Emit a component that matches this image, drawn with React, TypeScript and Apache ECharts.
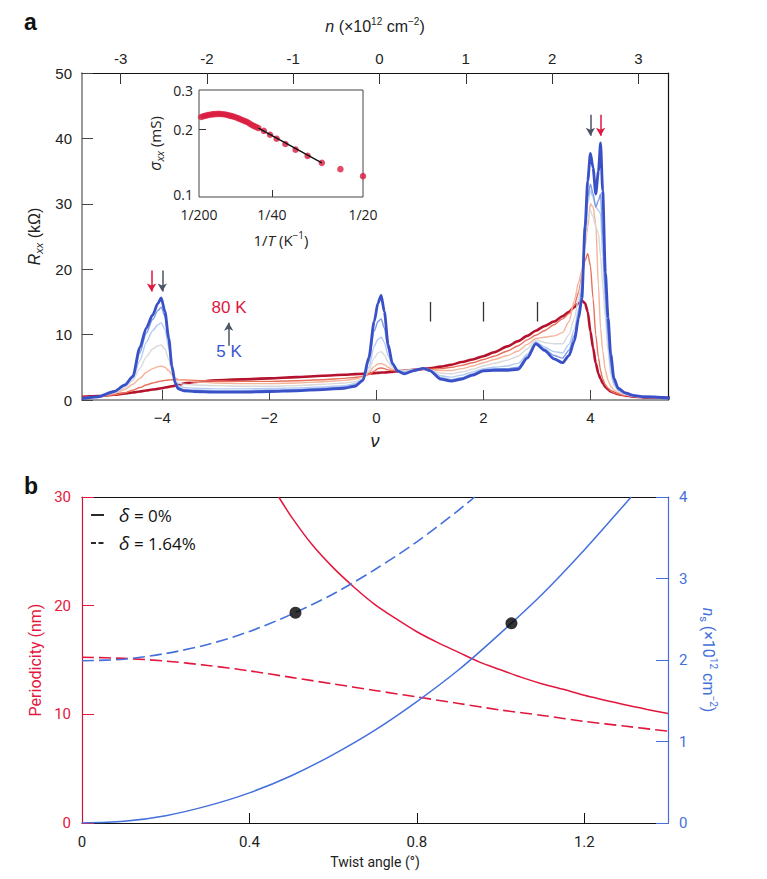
import React, { useEffect, useRef } from 'react';
import * as echarts from 'echarts';

// ---------- Panel a: Rxx vs filling factor ----------
const nu = [
  -5.5, -5.2, -4.9, -4.7, -4.55, -4.42, -4.3, -4.18, -4.08, -4.02,
  -3.95, -3.88, -3.82, -3.76, -3.7, -3.6, -3.4, -3.0, -2.5, -2.0,
  -1.5, -1.0, -0.6, -0.4, -0.25, -0.14, -0.04, 0.03, 0.09, 0.15,
  0.22, 0.3, 0.4, 0.52, 0.7, 0.88, 1.0, 1.2, 1.4, 1.6,
  1.8, 2.0, 2.2, 2.45, 2.65, 2.82, 2.98, 3.14, 3.32, 3.48,
  3.6, 3.7, 3.78, 3.84, 3.9, 3.95, 4.0, 4.05, 4.1, 4.15,
  4.19, 4.23, 4.28, 4.33, 4.38, 4.44, 4.52, 4.65, 4.8, 5.0,
  5.5,
];
const rxx80K = [
  0.5, 0.6, 0.8, 1.0, 1.15, 1.3, 1.45, 1.6, 1.7, 1.8,
  1.9, 2.0, 2.1, 2.2, 2.35, 2.5, 2.75, 3.0, 3.15, 3.3,
  3.5, 3.7, 3.85, 3.95, 4.0, 4.05, 4.1, 4.15, 4.2, 4.2,
  4.25, 4.3, 4.4, 4.5, 4.6, 4.75, 4.85, 5.1, 5.4, 5.8,
  6.2, 6.7, 7.3, 8.2, 9.0, 9.8, 10.6, 11.3, 12.0, 12.8,
  13.5, 14.2, 14.8, 15.2, 14.8, 13.5, 10.5, 8.0, 5.6, 4.0,
  3.2, 2.6, 2.0, 1.6, 1.3, 1.1, 0.9, 0.7, 0.5, 0.4,
  0.35,
];
const rxxT2 = [
  0.4, 0.5, 0.8, 1.1, 1.5, 1.9, 2.3, 2.6, 2.8, 2.9,
  3.0, 3.05, 3.1, 3.1, 3.1, 3.05, 3.0, 2.9, 2.85, 2.85,
  2.95, 3.1, 3.3, 3.45, 3.6, 3.9, 4.4, 4.8, 4.9, 4.8,
  4.6, 4.5, 4.5, 4.5, 4.6, 4.7, 4.7, 4.8, 5.0, 5.3,
  5.7, 6.2, 6.7, 7.5, 8.3, 9.2, 9.9, 10.6, 11.5, 12.4,
  13.2, 14.5, 16.5, 18.8, 21.3, 22.4, 20.5, 15.5, 10.0, 6.5,
  4.5, 3.2, 2.3, 1.8, 1.4, 1.1, 0.9, 0.7, 0.5, 0.4,
  0.3,
];
const rxxT3 = [
  0.3, 0.5, 1.0, 1.6, 2.4, 3.3, 4.2, 4.8, 5.1, 5.2,
  5.0, 4.5, 3.9, 3.4, 3.15, 3.0, 2.8, 2.6, 2.5, 2.5,
  2.6, 2.8, 3.0, 3.2, 3.5, 4.2, 5.1, 5.5, 5.6, 5.4,
  5.0, 4.7, 4.6, 4.5, 4.6, 4.7, 4.6, 4.5, 4.5, 4.8,
  5.2, 5.7, 6.2, 6.8, 7.5, 8.5, 9.4, 9.6, 9.8, 10.3,
  12.0, 15.2, 18.0, 19.8, 23.5, 26.4, 30.0, 29.5, 27.0, 17.5,
  11.0, 7.5, 4.5, 3.0, 2.1, 1.5, 1.1, 0.8, 0.6, 0.4,
  0.3,
];
const rxxT4 = [
  0.25, 0.5, 1.1, 1.9, 3.0, 4.8, 6.6, 7.8, 8.3, 8.4,
  7.8, 6.2, 4.4, 3.1, 2.6, 2.4, 2.3, 2.2, 2.1, 2.1,
  2.2, 2.4, 2.6, 2.8, 3.3, 4.5, 6.4, 7.2, 7.4, 6.9,
  5.8, 5.0, 4.7, 4.5, 4.6, 4.8, 4.6, 4.1, 4.0, 4.3,
  4.7, 5.2, 5.6, 6.1, 6.7, 7.8, 9.2, 8.8, 8.6, 8.6,
  10.0, 12.5, 15.5, 18.5, 24.0, 27.5, 29.0, 28.0, 26.5, 25.5,
  22.0, 17.5, 12.5, 7.5, 4.0, 2.2, 1.4, 0.9, 0.6, 0.45,
  0.3,
];
const rxxT5 = [
  0.2, 0.5, 1.2, 2.1, 3.3, 6.0, 8.8, 10.6, 11.5, 11.8,
  10.8, 8.0, 5.0, 3.0, 2.2, 1.9, 1.8, 1.7, 1.7, 1.75,
  1.85, 2.0, 2.2, 2.5, 3.1, 5.0, 8.2, 9.3, 9.6, 8.8,
  6.8, 5.3, 4.6, 4.3, 4.6, 4.85, 4.6, 3.7, 3.5, 3.8,
  4.3, 4.8, 5.0, 5.2, 5.6, 7.0, 8.9, 8.1, 7.4, 7.2,
  8.5, 10.8, 14.0, 17.5, 25.0, 30.0, 32.0, 31.0, 29.5, 29.0,
  28.5, 22.0, 14.5, 8.5, 4.5, 2.4, 1.5, 0.9, 0.6, 0.45,
  0.3,
];
const rxxT6 = [
  0.2, 0.5, 1.25, 2.2, 3.5, 7.2, 10.2, 12.3, 13.7, 14.2,
  12.8, 9.0, 5.1, 2.8, 1.9, 1.6, 1.5, 1.4, 1.4, 1.5,
  1.6, 1.8, 2.0, 2.3, 3.0, 5.8, 10.5, 12.0, 12.4, 11.0,
  7.8, 5.5, 4.5, 4.1, 4.55, 4.85, 4.55, 3.4, 3.1, 3.4,
  4.0, 4.6, 4.75, 4.8, 5.0, 6.7, 8.7, 7.8, 6.8, 6.4,
  7.6, 9.9, 13.3, 16.8, 25.0, 31.0, 33.0, 31.5, 29.5, 30.5,
  31.5, 25.0, 16.0, 10.0, 5.5, 2.8, 1.6, 1.0, 0.65, 0.45,
  0.3,
];
const rxx5K = [
  0.2, 0.5, 1.3, 2.3, 3.6, 8.0, 11.0, 13.0, 14.8, 15.6,
  13.5, 9.5, 5.2, 2.6, 1.7, 1.4, 1.3, 1.2, 1.2, 1.3,
  1.4, 1.6, 1.8, 2.1, 3.0, 6.5, 12.0, 14.8, 16.0, 13.5,
  8.5, 5.6, 4.4, 4.0, 4.5, 4.85, 4.5, 3.2, 2.9, 3.2,
  3.8, 4.45, 4.55, 4.55, 4.7, 6.4, 8.6, 7.6, 6.3, 5.7,
  6.8, 9.0, 12.5, 15.5, 26.5, 33.5, 37.7, 35.5, 31.5, 35.0,
  39.3, 32.0, 19.5, 12.6, 7.0, 3.3, 1.8, 1.1, 0.7, 0.5,
  0.3,
];
const curveColors = ['#b5122d', '#e8705a', '#f5b39a', '#d9d9d9', '#b3cbf3', '#7c9be9', '#3a50c6'];
const curveWidths = [2.6, 1.4, 1.4, 1.4, 1.4, 1.4, 2.8];
const curves = [rxx80K, rxxT2, rxxT3, rxxT4, rxxT5, rxxT6, rxx5K];

const nuTicks = [-4, -2, 0, 2, 4];
const nTicks = [-3, -2, -1, 0, 1, 2, 3];
const fillingMarks = [1, 2, 3];
const fillingMarkRange = [12, 15];
// arrows: [nu, yStart, yEnd]
const arrowRed = [[-4.2, 19.8, 16.6], [4.19, 43.6, 40.4]];
const arrowGray = [[-4.0, 19.8, 16.6], [4.0, 43.6, 40.4]];
const tempArrow = [-2.76, 8.3, 11.8];

// ---------- Inset ----------
const invT = [0.0056, 0.0062, 0.0068, 0.0074, 0.0080, 0.0086, 0.0092, 0.0098, 0.0104, 0.0110,
  0.0116, 0.0122, 0.0128, 0.0134, 0.0140, 0.0146, 0.0152, 0.0158, 0.0164, 0.0170,
  0.0176, 0.0182, 0.0188, 0.0194, 0.0200, 0.0206, 0.0213, 0.0228, 0.0245, 0.0263,
  0.0287, 0.0315, 0.0348, 0.0387, 0.0438, 0.0500];
const sigma = [0.2275, 0.2290, 0.2305, 0.2318, 0.2328, 0.2336, 0.2342, 0.2346, 0.2347, 0.2345,
  0.2340, 0.2332, 0.2320, 0.2306, 0.2295, 0.2280, 0.2262, 0.2242, 0.2222, 0.2200,
  0.2180, 0.2160, 0.2130, 0.2100, 0.2075, 0.2055, 0.2029, 0.1973, 0.1895, 0.1820,
  0.1723, 0.1626, 0.1525, 0.1420, 0.1331, 0.1239];
const fitX = [0.0213, 0.0387];
const fitY = [0.2029, 0.142];
const invTLabels = [0.005, 0.025, 0.05];
const sigmaLabels = [0.1, 0.2, 0.3];

// ---------- Panel b ----------
const angleSolidP = [0.47, 0.5, 0.55, 0.6, 0.65, 0.7, 0.75, 0.8, 0.85, 0.9, 0.95, 1.0, 1.05, 1.1, 1.15, 1.2, 1.25, 1.3, 1.35, 1.4];
const periodSolid = [30.0, 28.2, 25.6, 23.5, 21.7, 20.1, 18.8, 17.6, 16.6, 15.7, 14.8, 14.1, 13.4, 12.8, 12.3, 11.75, 11.3, 10.85, 10.45, 10.07];
const angleDashedP = [0, 0.1, 0.2, 0.3, 0.4, 0.5, 0.6, 0.7, 0.8, 0.9, 1.0, 1.1, 1.2, 1.3, 1.4];
const periodDashed = [15.25, 15.15, 14.9, 14.5, 14.0, 13.4, 12.8, 12.2, 11.6, 11.0, 10.4, 9.9, 9.35, 8.9, 8.45];
const angleSolidN = [0, 0.1, 0.2, 0.3, 0.4, 0.5, 0.6, 0.7, 0.8, 0.9, 1.0, 1.1, 1.2, 1.3, 1.312];
const nsSolid = [0, 0.02, 0.09, 0.21, 0.37, 0.58, 0.84, 1.14, 1.49, 1.88, 2.33, 2.81, 3.35, 3.93, 4.0];
const angleDashedN = [0, 0.1, 0.2, 0.3, 0.4, 0.5, 0.6, 0.7, 0.8, 0.9, 0.938];
const nsDashed = [1.99, 2.01, 2.08, 2.19, 2.35, 2.56, 2.81, 3.11, 3.45, 3.84, 4.0];
const dotAngles = [0.51, 1.026];
const dotNs = [2.58, 2.45];
const angleTicks = [0, 0.4, 0.8, 1.2];

const RED = '#e3173d';
const BLUE = '#4470dc';
const zip = (a: number[], b: number[]) => a.map((v, i) => [v, b[i]]);
const minus = (v: number) => (v < 0 ? '\u2212' + Math.abs(v) : String(v));

const supRich = {
  i: { fontStyle: 'italic', fontSize: 16 },
  sup: { fontSize: 10, verticalAlign: 'top', lineHeight: 10 },
  sub: { fontSize: 11, fontStyle: 'italic', verticalAlign: 'bottom', lineHeight: 11 },
};

export default function App() {
  const ref = useRef<HTMLDivElement>(null);
  useEffect(() => {
    const chart = echarts.init(ref.current!, null, { renderer: 'svg' });
    const F = 'Liberation Sans, Arial, sans-serif';
    const borderAxis = (grid: number, pos: string, min: number, max: number, color: string) => ({
      type: 'value', gridIndex: grid, position: pos, min, max,
      axisLine: { show: true, onZero: false, lineStyle: { color, width: 1.2 } },
      axisTick: { show: false }, axisLabel: { show: false }, splitLine: { show: false },
    });

    const aSeries: any[] = curves.map((arr, k) => ({
      type: 'line', xAxisIndex: 0, yAxisIndex: 0,
      data: zip(nu, arr), showSymbol: false, smooth: 0.25, smoothMonotone: 'x',
      lineStyle: { color: curveColors[k], width: curveWidths[k] }, z: 2 + k, silent: true,
    }));
    aSeries[0].markLine = {
      silent: true, symbol: ['none', 'arrow'], symbolSize: [7, 8], animation: false,
      label: { show: false },
      data: [
        ...arrowRed.map(a => [{ coord: [a[0], a[1]], lineStyle: { color: '#e0163c', width: 1.5, type: 'solid' } }, { coord: [a[0], a[2]] }]),
        ...arrowGray.map(a => [{ coord: [a[0], a[1]], lineStyle: { color: '#4b5563', width: 1.5, type: 'solid' } }, { coord: [a[0], a[2]] }]),
        [{ coord: [tempArrow[0], tempArrow[1]], lineStyle: { color: '#4b5563', width: 1.5, type: 'solid' } }, { coord: [tempArrow[0], tempArrow[2]] }],
      ],
    };
    aSeries[1].markLine = {
      silent: true, symbol: ['none', 'none'], animation: false, label: { show: false },
      data: fillingMarks.map(m => [{ coord: [m, fillingMarkRange[0]], lineStyle: { color: '#333', width: 1.3, type: 'solid' } }, { coord: [m, fillingMarkRange[1]] }]),
    };

    const option: any = {
      animation: false,
      backgroundColor: '#fff',
      textStyle: { fontFamily: F },
      grid: [
        { left: 82, top: 73, width: 586, height: 327 },
        { left: 199, top: 90, width: 164, height: 107, show: true, borderColor: '#444', borderWidth: 1, backgroundColor: 'rgba(0,0,0,0)', z: 10 },
        { left: 82, top: 497, width: 586, height: 326 },
      ],
      xAxis: [
        {
          type: 'value', gridIndex: 0, position: 'bottom', min: -5.5, max: 5.45,
          axisLine: { onZero: false, lineStyle: { color: '#777', width: 1.5 } },
          axisTick: { inside: true, length: 10, customValues: nuTicks, lineStyle: { color: '#444' } },
          axisLabel: { customValues: nuTicks, formatter: (v: number) => minus(v), fontSize: 15, color: '#222', margin: 10 },
          splitLine: { show: false },
          name: 'ν', nameLocation: 'middle', nameGap: 32,
          nameTextStyle: { fontStyle: 'italic', fontSize: 18, color: '#222' },
        },
        {
          type: 'value', gridIndex: 0, position: 'top', min: -3.447, max: 3.343,
          axisLine: { onZero: false, lineStyle: { color: '#111', width: 1.2 } },
          axisTick: { inside: true, length: 11, customValues: nTicks, lineStyle: { color: '#333' } },
          axisLabel: { customValues: nTicks, formatter: (v: number) => (v < 0 ? '-' + Math.abs(v) : String(v)), fontSize: 15, color: '#222', margin: 7 },
          splitLine: { show: false },
          name: '{i|n} (×10{sup|12} cm{sup|−2})', nameLocation: 'middle', nameGap: 37,
          nameTextStyle: { fontSize: 16, color: '#222', lineHeight: 20, rich: supRich },
        },
        {
          type: 'value', gridIndex: 1, min: 0.005, max: 0.05,
          axisLine: { show: false },
          axisTick: { inside: true, length: 7, customValues: [0.025], lineStyle: { color: '#333' } },
          axisLabel: { customValues: invTLabels, formatter: (v: number) => '1/' + Math.round(1 / v), fontSize: 14, color: '#222', margin: 10, fontFamily: 'Open Sans', lineHeight: 15 },
          splitLine: { show: false },
          name: '1/{i|T} (K{sup|−1})', nameLocation: 'middle', nameGap: 33,
          nameTextStyle: { fontSize: 15, color: '#222', lineHeight: 20, fontFamily: 'Open Sans', rich: { i: { fontStyle: 'italic', fontSize: 15, fontFamily: 'Open Sans' }, sup: { fontSize: 10, verticalAlign: 'top', lineHeight: 10, fontFamily: 'Open Sans' } } },
        },
        {
          type: 'value', gridIndex: 2, position: 'bottom', min: 0, max: 1.4,
          axisLine: { onZero: false, lineStyle: { color: '#111', width: 1.2 } },
          axisTick: { inside: true, length: 10, customValues: [0.4, 0.8, 1.2], lineStyle: { color: '#111' } },
          axisLabel: { customValues: angleTicks, formatter: (v: number) => String(v), fontSize: 15, color: '#222', margin: 11, fontFamily: 'Roboto' },
          splitLine: { show: false },
          name: 'Twist angle (°)', nameLocation: 'middle', nameGap: 32,
          nameTextStyle: { fontSize: 14, color: '#222', fontFamily: 'Roboto' },
        },
        borderAxis(2, 'top', 0, 1.4, '#111'),
      ],
      yAxis: [
        {
          type: 'value', gridIndex: 0, min: 0, max: 50, interval: 10,
          axisLine: { show: true, onZero: false, lineStyle: { color: '#777', width: 1.5 } },
          axisTick: { show: true, inside: true, length: 11, lineStyle: { color: '#444' } },
          axisLabel: { fontSize: 15, color: '#222', margin: 10 },
          splitLine: { show: false },
          name: '{i|R}{sub|xx} (kΩ)', nameLocation: 'middle', nameGap: 38, nameRotate: 90,
          nameTextStyle: { fontSize: 16, color: '#222', lineHeight: 20, rich: supRich },
        },
        borderAxis(0, 'right', 0, 50, '#111'),
        {
          type: 'log', logBase: 10, gridIndex: 1, min: 0.1, max: 0.3,
          axisLine: { show: false },
          axisTick: { show: true, inside: true, length: 7, customValues: [0.2], lineStyle: { color: '#333' } },
          axisLabel: {
            customValues: sigmaLabels,
            formatter: (v: number) => (v < 0.15 ? '{lo|' + v.toFixed(1) + '}' : v.toFixed(1)),
            fontSize: 14, color: '#222', margin: 6, fontFamily: 'Open Sans', lineHeight: 15,
            rich: { lo: { fontSize: 14, fontFamily: 'Open Sans', color: '#222', padding: [0, 0, 5, 0], lineHeight: 15 } },
          },
          splitLine: { show: false }, minorTick: { show: false },
          name: '{i|σ}{sub|xx} (mS)', nameLocation: 'middle', nameGap: 34, nameRotate: 90,
          nameTextStyle: { fontSize: 15, color: '#222', lineHeight: 20, fontFamily: 'Open Sans', rich: { i: { fontStyle: 'italic', fontSize: 16, fontFamily: 'Open Sans' }, sub: { fontSize: 11, fontStyle: 'italic', verticalAlign: 'bottom', lineHeight: 11, fontFamily: 'Open Sans' } } },
        },
        {
          type: 'value', gridIndex: 2, position: 'left', min: 0, max: 30, interval: 10,
          axisLine: { show: true, onZero: false, lineStyle: { color: '#c8163c', width: 1.2 } },
          axisTick: { show: true, inside: true, length: 12, lineStyle: { color: RED } },
          axisLabel: { fontSize: 15, color: RED, margin: 11, fontFamily: 'Roboto' },
          splitLine: { show: false },
          name: 'Periodicity (nm)', nameLocation: 'middle', nameGap: 33, nameRotate: 90,
          nameTextStyle: { fontSize: 16, color: RED, fontFamily: 'Roboto' },
        },
        {
          type: 'value', gridIndex: 2, position: 'right', min: 0, max: 4, interval: 1,
          axisLine: { show: true, onZero: false, lineStyle: { color: BLUE, width: 1.2 } },
          axisTick: { show: true, inside: true, length: 12, lineStyle: { color: BLUE } },
          axisLabel: { fontSize: 15, color: BLUE, margin: 11, fontFamily: 'Roboto' },
          splitLine: { show: false },
          name: '{i|n}{sub|s} (×10{sup|12} cm{sup|−2})', nameLocation: 'middle', nameGap: 30, nameRotate: -90,
          nameTextStyle: { fontSize: 16, color: BLUE, lineHeight: 20, fontFamily: 'Roboto', rich: {
            i: { fontStyle: 'italic', fontSize: 16, color: BLUE, fontFamily: 'Roboto' },
            sub: { fontSize: 11, color: BLUE, verticalAlign: 'bottom', lineHeight: 11, fontFamily: 'Roboto' },
            sup: { fontSize: 10, color: BLUE, verticalAlign: 'top', lineHeight: 10, fontFamily: 'Roboto' },
          } },
        },
      ],
      series: [
        ...aSeries,
        {
          type: 'scatter', xAxisIndex: 2, yAxisIndex: 2, data: zip(invT, sigma),
          symbolSize: 6.5, itemStyle: { color: '#d91c3e' }, z: 11, silent: true,
        },
        {
          type: 'line', xAxisIndex: 2, yAxisIndex: 2, data: zip(fitX, fitY),
          showSymbol: false, lineStyle: { color: '#111', width: 1.4 }, z: 12, silent: true,
        },
        {
          type: 'line', xAxisIndex: 3, yAxisIndex: 3, data: zip(angleSolidP, periodSolid),
          showSymbol: false, smooth: 0.3, lineStyle: { color: RED, width: 1.5 }, silent: true,
        },
        {
          type: 'line', xAxisIndex: 3, yAxisIndex: 3, data: zip(angleDashedP, periodDashed),
          showSymbol: false, smooth: 0.3, lineStyle: { color: RED, width: 1.6, type: [12, 5] }, silent: true,
        },
        {
          type: 'line', xAxisIndex: 3, yAxisIndex: 4, data: zip(angleSolidN, nsSolid),
          showSymbol: false, smooth: 0.3, lineStyle: { color: BLUE, width: 1.5 }, silent: true,
        },
        {
          type: 'line', xAxisIndex: 3, yAxisIndex: 4, data: zip(angleDashedN, nsDashed),
          showSymbol: false, smooth: 0.3, lineStyle: { color: BLUE, width: 1.6, type: [12, 5] }, silent: true,
        },
        {
          type: 'scatter', xAxisIndex: 3, yAxisIndex: 4, data: zip(dotAngles, dotNs),
          symbolSize: 12, itemStyle: { color: '#000' }, z: 10, silent: true,
        },
      ],
      graphic: [
        { type: 'text', left: 24, top: 10, style: { text: 'a', font: 'bold 23px Liberation Sans, Arial, sans-serif', fill: '#111' } },
        { type: 'text', left: 24, top: 474, style: { text: 'b', font: 'bold 23px Liberation Sans, Arial, sans-serif', fill: '#111' } },
        { type: 'text', x: 229, y: 307, style: { text: '80 K', font: '17px Liberation Sans, Arial, sans-serif', fill: '#e0173f', align: 'center', verticalAlign: 'middle' } },
        { type: 'text', x: 229, y: 351, style: { text: '5 K', font: '17px Liberation Sans, Arial, sans-serif', fill: '#3b55cf', align: 'center', verticalAlign: 'middle' } },
        { type: 'line', shape: { x1: 91, y1: 515, x2: 104, y2: 515 }, style: { stroke: '#111', lineWidth: 1.8 } },
        { type: 'line', shape: { x1: 91, y1: 543, x2: 96, y2: 543 }, style: { stroke: '#111', lineWidth: 1.8 } },
        { type: 'line', shape: { x1: 98.5, y1: 543, x2: 103.5, y2: 543 }, style: { stroke: '#111', lineWidth: 1.8 } },
        { type: 'text', x: 119, y: 515, style: { text: '{i|δ} = 0%', font: '17px Open Sans, sans-serif', fill: '#111', verticalAlign: 'middle', rich: { i: { fontStyle: 'italic', fontSize: 19, fontFamily: 'Open Sans' } } } },
        { type: 'text', x: 119, y: 543, style: { text: '{i|δ} = 1.64%', font: '17px Open Sans, sans-serif', fill: '#111', verticalAlign: 'middle', rich: { i: { fontStyle: 'italic', fontSize: 19, fontFamily: 'Open Sans' } } } },
      ],
    };
    chart.setOption(option);
    return () => chart.dispose();
  }, []);
  return <div ref={ref} style={{ position: 'absolute', left: 0, top: 0, width: 767, height: 879 }} />;
}
